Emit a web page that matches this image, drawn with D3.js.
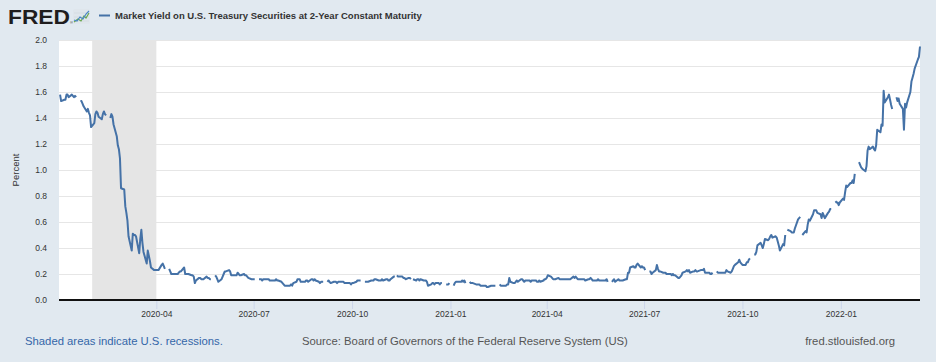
<!DOCTYPE html>
<html>
<head>
<meta charset="utf-8">
<script src="https://cdn.jsdelivr.net/npm/d3@7"></script>
<style>
  body { margin: 0; background: #e1e9f0; }
  svg { display: block; font-family: "Liberation Sans", Arial, sans-serif; }
</style>
</head>
<body>
<div id="chart"></div>
<script>
"use strict"

const seriesTitle = "Market Yield on U.S. Treasury Securities at 2-Year Constant Maturity"
const yTitle = "Percent"
const startDate = "2020-01-01"
const endDate = "2022-03-16"
const recessions = [["2020-02-01", "2020-04-01"]]
const xTicks = ["2020-04-01", "2020-07-01", "2020-10-01", "2021-01-01", "2021-04-01",
                "2021-07-01", "2021-10-01", "2022-01-01"]
const yTicks = [0, 0.2, 0.4, 0.6, 0.8, 1.0, 1.2, 1.4, 1.6, 1.8, 2.0]

// one row per month, one value per weekday, null = market closed
const yields2020 = [
  [null, 1.58, 1.53, 1.54, 1.54, 1.58, 1.58, 1.56, 1.58, 1.57, 1.56, 1.57, 1.56, null, 1.53, 1.53, 1.51, 1.49, 1.45, 1.47, 1.44, 1.42, 1.33],
  [1.36, 1.43, 1.45, 1.44, 1.41, 1.39, 1.43, 1.45, 1.43, 1.42, null, 1.40, 1.43, 1.41, 1.35, 1.26, 1.19, 1.16, 1.09, 0.86],
  [0.85, 0.72, 0.67, 0.61, 0.49, 0.38, 0.51, 0.50, 0.50, 0.49, 0.36, 0.47, 0.54, 0.44, 0.37, 0.28, 0.38, 0.34, 0.30, 0.25, 0.23, 0.23],
  [0.23, 0.23, 0.23, 0.27, 0.28, 0.26, 0.24, null, 0.24, 0.22, 0.20, 0.20, 0.20, 0.20, 0.20, 0.21, 0.22, 0.22, 0.25, 0.20, 0.20, 0.20],
  [0.20, 0.19, 0.19, 0.18, 0.13, 0.15, 0.17, 0.17, 0.16, 0.16, 0.16, 0.18, 0.17, 0.17, 0.16, 0.16, null, 0.19, 0.18, 0.16, 0.14],
  [0.16, 0.18, 0.20, 0.22, 0.22, 0.23, 0.22, 0.19, 0.19, 0.19, 0.19, 0.21, 0.20, 0.19, 0.19, 0.20, 0.19, 0.19, 0.18, 0.17, 0.16, 0.16],
  [0.16, 0.16, null, 0.16, 0.16, 0.16, 0.15, 0.16, 0.16, 0.16, 0.16, 0.15, 0.15, 0.15, 0.15, 0.16, 0.15, 0.15, 0.14, 0.13, 0.12, 0.11, 0.11],
  [0.11, 0.11, 0.12, 0.11, 0.13, 0.14, 0.16, 0.16, 0.16, 0.14, 0.14, 0.14, 0.15, 0.15, 0.14, 0.16, 0.16, 0.15, 0.16, 0.15, 0.14],
  [0.13, 0.14, 0.14, 0.14, null, 0.14, 0.15, 0.14, 0.13, 0.14, 0.14, 0.14, 0.13, 0.14, 0.14, 0.14, 0.14, 0.13, 0.13, 0.13, 0.13, 0.12],
  [0.13, 0.13, 0.14, 0.15, 0.15, 0.15, 0.15, null, 0.14, 0.14, 0.14, 0.14, 0.15, 0.15, 0.15, 0.16, 0.16, 0.15, 0.15, 0.15, 0.16, 0.15],
  [0.16, 0.16, 0.15, 0.15, 0.16, 0.18, 0.18, null, 0.19, 0.18, 0.18, 0.18, 0.17, 0.17, 0.16, 0.17, 0.17, 0.16, null, 0.16, 0.15],
  [0.16, 0.16, 0.15, 0.16, 0.15, 0.15, 0.15, 0.14, 0.11, 0.12, 0.13, 0.13, 0.12, 0.13, 0.13, 0.12, 0.13, 0.13, null, 0.12, 0.12, 0.12, 0.13],
]
const yields2021 = [
  [null, 0.11, 0.13, 0.14, 0.14, 0.14, 0.14, 0.15, 0.14, 0.15, 0.13, null, 0.14, 0.13, 0.13, 0.13, 0.12, 0.12, 0.12, 0.12, 0.11],
  [0.11, 0.11, 0.11, 0.10, 0.10, 0.11, 0.11, 0.11, 0.11, 0.11, null, 0.12, 0.11, 0.11, 0.11, 0.11, 0.12, 0.12, 0.17, 0.14],
  [0.13, 0.13, 0.14, 0.15, 0.14, 0.16, 0.16, 0.15, 0.14, 0.15, 0.15, 0.15, 0.14, 0.15, 0.15, 0.15, 0.14, 0.14, 0.15, 0.14, 0.15, 0.16, 0.16],
  [0.17, 0.19, 0.18, 0.17, 0.16, 0.16, 0.16, 0.17, 0.16, 0.16, 0.16, 0.16, 0.16, 0.16, 0.16, 0.16, 0.16, 0.18, 0.17, 0.18, 0.17, 0.16],
  [0.16, 0.16, 0.16, 0.16, 0.15, 0.16, 0.16, 0.17, 0.16, 0.15, 0.15, 0.15, 0.16, 0.15, 0.15, 0.15, 0.15, 0.15, 0.16, 0.14, null],
  [0.14, 0.15, 0.16, 0.14, 0.16, 0.15, 0.15, 0.15, 0.15, 0.16, 0.16, 0.21, 0.21, 0.25, 0.26, 0.25, 0.25, 0.27, 0.28, 0.25, 0.26, 0.25],
  [0.25, 0.23, null, 0.22, 0.22, 0.20, 0.21, 0.23, 0.27, 0.24, 0.22, 0.22, 0.21, 0.21, 0.21, 0.20, 0.20, 0.20, 0.19, 0.20, 0.19, 0.19],
  [0.17, 0.17, 0.18, 0.19, 0.21, 0.22, 0.23, 0.22, 0.23, 0.21, 0.22, 0.22, 0.23, 0.22, 0.22, 0.23, 0.23, 0.23, 0.24, 0.21, 0.21, 0.21],
  [0.20, 0.20, 0.21, null, 0.22, 0.21, 0.21, 0.21, 0.21, 0.21, 0.21, 0.23, 0.22, 0.21, 0.22, 0.24, 0.26, 0.27, 0.29, 0.31, 0.29, 0.28],
  [0.27, 0.27, 0.29, 0.29, 0.31, 0.32, null, 0.35, 0.35, 0.37, 0.42, 0.44, 0.42, 0.40, 0.43, 0.47, 0.46, 0.47, 0.49, 0.50, 0.48],
  [0.49, 0.48, 0.45, 0.42, 0.38, 0.43, 0.42, 0.50, null, 0.54, 0.53, 0.52, 0.52, 0.52, 0.55, 0.62, 0.63, 0.64, null, 0.50, 0.53, 0.52],
  [0.58, 0.62, 0.61, 0.66, 0.69, 0.69, 0.69, 0.67, 0.66, 0.63, 0.67, 0.65, 0.63, 0.67, 0.68, 0.70, 0.70, null, 0.76, 0.75, 0.75, 0.73, 0.75],
]
const yields2022 = [
  [0.78, 0.77, 0.83, 0.88, 0.87, 0.90, 0.90, 0.92, 0.90, 0.97, null, 1.06, 1.04, 1.02, 1.01, 0.99, 1.03, 1.15, 1.18, 1.16, 1.18],
  [1.16, 1.15, 1.19, 1.31, 1.29, 1.35, 1.34, 1.61, 1.52, 1.56, 1.58, 1.54, 1.50, 1.47, null, 1.56, 1.53, 1.55, 1.51, 1.47],
  [1.31, 1.51, 1.48, 1.52, 1.60, 1.68, 1.71, 1.74, 1.78, 1.85, 1.87, 1.95],
]

const parseDate = d3.timeParse("%Y-%m-%d")

function weekdays(year, month) {
  return d3.timeDay.range(new Date(year, month, 1), new Date(year, month + 1, 1))
    .filter(d => d.getDay() > 0 && d.getDay() < 6)
}

const series = []
;[[2020, yields2020], [2021, yields2021], [2022, yields2022]].forEach(([year, rows]) => {
  rows.forEach((vals, m) => {
    const days = weekdays(year, m)
    if (vals.length > days.length) console.warn("too many values", year, m + 1)
    vals.forEach((v, i) => series.push({date: days[i], value: v}))
  })
})

function drawChart() {
  const width = 936, height = 362
  const plot = {left: 59, right: 920, top: 40, bottom: 300}

  const svg = d3.select("#chart").append("svg")
    .attr("width", width)
    .attr("height", height)
    .attr("viewBox", `0,0,${width},${height}`)

  svg.append("rect").attr("width", width).attr("height", height).attr("fill", "#e1e9f0")

  const x = d3.scaleTime()
    .domain([parseDate(startDate), parseDate(endDate)])
    .range([plot.left, plot.right])

  const y = d3.scaleLinear()
    .domain([0, 2])
    .range([plot.bottom, plot.top])

  // header: logo + legend
  const head = svg.append("g")
  head.append("text")
    .attr("x", 8).attr("y", 24)
    .attr("textLength", 62).attr("lengthAdjust", "spacingAndGlyphs")
    .style("font-size", "19.5px").style("font-weight", "900")
    .attr("fill", "#1f1d1e")
    .text("FRED")
  head.append("text")
    .attr("x", 70).attr("y", 24)
    .style("font-size", "4px").attr("fill", "#1f1d1e")
    .text("®")
  const icon = head.append("g").attr("transform", "translate(73 9)")
  icon.append("rect").attr("width", 17).attr("height", 15).attr("rx", 1.5).attr("fill", "#dfe6ec")
  ;[4, 8, 12].forEach(gy => icon.append("line")
    .attr("x1", 1).attr("x2", 16).attr("y1", gy).attr("y2", gy)
    .attr("stroke", "#c8d2da").attr("stroke-width", 0.5))
  icon.append("polyline")
    .attr("points", "1,13 5,10 8,12 11,7 13,9 16,4")
    .attr("fill", "none").attr("stroke", "#6aa84f").attr("stroke-width", 1.2)
  icon.append("polyline")
    .attr("points", "1,11 4,12 7,8 10,10 13,5 16,2")
    .attr("fill", "none").attr("stroke", "#4a86c5").attr("stroke-width", 1.2)

  head.append("line")
    .attr("x1", 99).attr("x2", 110).attr("y1", 15.5).attr("y2", 15.5)
    .attr("stroke", "#4572a7").attr("stroke-width", 2)
  head.append("text")
    .attr("x", 115).attr("y", 19)
    .style("font-size", "9.5px").style("font-weight", "bold")
    .attr("fill", "#333")
    .text(seriesTitle)

  // plot area
  svg.append("rect")
    .attr("x", plot.left).attr("y", plot.top)
    .attr("width", plot.right - plot.left).attr("height", plot.bottom - plot.top)
    .attr("fill", "#ffffff")

  svg.append("g")
    .selectAll("line")
    .data(yTicks.filter(v => v > 0))
    .join("line")
      .attr("x1", plot.left).attr("x2", plot.right)
      .attr("y1", d => Math.round(y(d)) + 0.5).attr("y2", d => Math.round(y(d)) + 0.5)
      .attr("stroke", "#e6e6e6")

  svg.append("g")
    .selectAll("rect")
    .data(recessions)
    .join("rect")
      .attr("x", d => x(parseDate(d[0])))
      .attr("width", d => x(parseDate(d[1])) - x(parseDate(d[0])))
      .attr("y", plot.top)
      .attr("height", plot.bottom - plot.top)
      .attr("fill", "#e5e5e5")

  const line = d3.line()
    .defined(d => d.value != null)
    .x(d => x(d.date))
    .y(d => y(d.value))

  svg.append("path")
    .datum(series)
    .attr("d", line)
    .attr("fill", "none")
    .attr("stroke", "#4572a7")
    .attr("stroke-width", 2)
    .attr("stroke-linejoin", "round")

  // axes
  const axisBottom = d3.axisBottom(x)
    .tickValues(xTicks.map(parseDate))
    .tickFormat(d3.timeFormat("%Y-%m"))
    .tickSize(9)
    .tickPadding(2)

  const gx = svg.append("g")
    .attr("transform", `translate(0 ${plot.bottom})`)
    .call(axisBottom)
  gx.select(".domain").remove()
  gx.selectAll(".tick line").attr("stroke", "#ccd6eb")
  gx.selectAll(".tick text")
    .attr("fill", "#333")
    .style("font-size", "8.5px")
    .style("font-family", "'Liberation Sans', Arial, sans-serif")

  svg.append("line")
    .attr("x1", plot.left).attr("x2", plot.right)
    .attr("y1", plot.bottom).attr("y2", plot.bottom)
    .attr("stroke", "#111").attr("stroke-width", 2)

  const axisLeft = d3.axisLeft(y)
    .tickValues(yTicks)
    .tickFormat(d3.format(".1f"))
    .tickSize(0)
    .tickPadding(12)

  const gy = svg.append("g")
    .attr("transform", `translate(${plot.left} 0)`)
    .call(axisLeft)
  gy.select(".domain").remove()
  gy.selectAll(".tick text")
    .attr("fill", "#333")
    .style("font-size", "8.5px")
    .style("font-family", "'Liberation Sans', Arial, sans-serif")

  svg.append("text")
    .attr("transform", `translate(19 ${(plot.top + plot.bottom) / 2}) rotate(-90)`)
    .attr("text-anchor", "middle")
    .style("font-size", "9.5px")
    .attr("fill", "#333")
    .text(yTitle)

  // footer
  const foot = svg.append("g").style("font-size", "11.3px")
  foot.append("text").attr("x", 25).attr("y", 345).attr("fill", "#3466a8")
    .text("Shaded areas indicate U.S. recessions.")
  foot.append("text").attr("x", 302).attr("y", 345).attr("fill", "#555")
    .text("Source: Board of Governors of the Federal Reserve System (US)")
  foot.append("text").attr("x", 895).attr("y", 345).attr("text-anchor", "end").attr("fill", "#555")
    .text("fred.stlouisfed.org")
}

drawChart()
</script>
</body>
</html>
